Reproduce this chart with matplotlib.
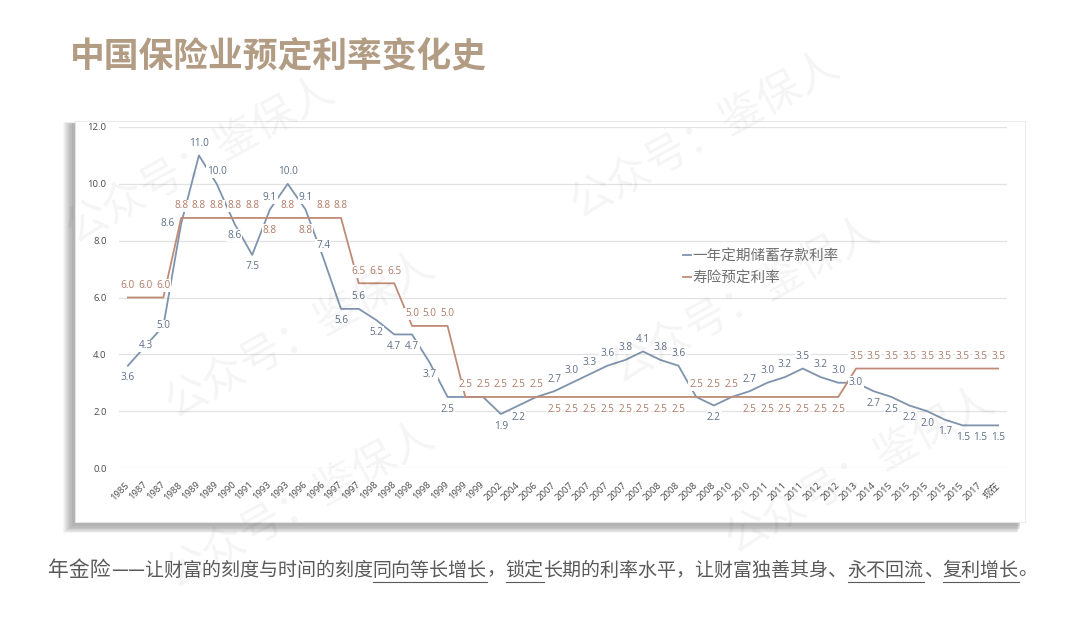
import matplotlib
matplotlib.use('Agg')
import matplotlib.pyplot as plt
from matplotlib.patches import Rectangle
from matplotlib.lines import Line2D

# ---------------- data ----------------
categories = ['1985', '1987', '1987', '1988', '1989', '1989', '1990', '1991', '1993', '1993',
              '1996', '1996', '1997', '1997', '1998', '1998', '1998', '1998', '1999', '1999',
              '1999', '2002', '2004', '2006', '2007', '2007', '2007', '2007', '2007', '2007',
              '2008', '2008', '2008', '2008', '2010', '2010', '2011', '2011', '2011', '2012',
              '2012', '2013', '2014', '2015', '2015', '2015', '2015', '2015', '2017', '现在']

deposit_rate = [3.6, 4.3, 5.0, 8.6, 11.0, 10.0, 8.6, 7.5, 9.1, 10.0,
                9.1, 7.4, 5.6, 5.6, 5.2, 4.7, 4.7, 3.7, 2.5, 2.5,
                2.5, 1.9, 2.2, 2.5, 2.7, 3.0, 3.3, 3.6, 3.8, 4.1,
                3.8, 3.6, 2.5, 2.2, 2.5, 2.7, 3.0, 3.2, 3.5, 3.2,
                3.0, 3.0, 2.7, 2.5, 2.2, 2.0, 1.7, 1.5, 1.5, 1.5]

insurance_rate = [6.0, 6.0, 6.0, 8.8, 8.8, 8.8, 8.8, 8.8, 8.8, 8.8,
                  8.8, 8.8, 8.8, 6.5, 6.5, 6.5, 5.0, 5.0, 5.0, 2.5,
                  2.5, 2.5, 2.5, 2.5, 2.5, 2.5, 2.5, 2.5, 2.5, 2.5,
                  2.5, 2.5, 2.5, 2.5, 2.5, 2.5, 2.5, 2.5, 2.5, 2.5,
                  2.5, 3.5, 3.5, 3.5, 3.5, 3.5, 3.5, 3.5, 3.5, 3.5]

series_names = ['一年定期储蓄存款利率', '寿险预定利率']
y_ticks = [0, 2, 4, 6, 8, 10, 12]

# label placement (a=above, b=below, l=left, c=center, ''=hidden)
deposit_label_pos = ['b', 'c', 'c', 'l', 'a', 'a', 'b', 'b', 'a', 'a',
                     'a', 'a', 'b', 'a', 'b', 'b', 'b', 'b', 'b', '',
                     '', 'b', 'b', '', 'a', 'a', 'a', 'a', 'a', 'a',
                     'a', 'a', '', 'b', '', 'a', 'a', 'a', 'a', 'a',
                     'a', 'c', 'b', 'b', 'b', 'b', 'b', 'b', 'b', 'b']
insurance_label_pos = ['a', 'a', 'a', 'a', 'a', 'a', 'a', 'a', 'b', 'a',
                       'b', 'a', 'a', 'a', 'a', 'a', 'a', 'a', 'a', 'a',
                       'a', 'a', 'a', 'a', 'b', 'b', 'b', 'b', 'b', 'b',
                       'b', 'b', 'a', 'a', 'a', 'b', 'b', 'b', 'b', 'b',
                       'b', 'a', 'a', 'a', 'a', 'a', 'a', 'a', 'a', 'a']

# ---------------- style ----------------
W, H = 1080, 618
CJK = ['Noto Sans CJK SC', 'DejaVu Sans']
NUM = ['Open Sans', 'Noto Sans CJK SC', 'DejaVu Sans']
blue_line, blue_text = '#7F93AC', '#5E6F88'
orange_line, orange_text = '#BF8B77', '#AE7A66'
tick_color = '#4A4A4A'

fig = plt.figure(figsize=(W / 100, H / 100), dpi=100)
fig.patch.set_facecolor('white')

# background axes in pixel coordinates
bg = fig.add_axes([0, 0, 1, 1], zorder=-5)
bg.set_xlim(0, W)
bg.set_ylim(H, 0)
bg.axis('off')

# panel shadow (soft)
for k in range(8):
    bg.add_patch(Rectangle((70 - k, 124 - k * 0.3), 950 + k * 0.6, 404 + k,
                           facecolor='#000000', edgecolor='none', alpha=0.035))
bg.add_patch(Rectangle((72, 123), 948, 403, facecolor='#9a9a9a', edgecolor='none', alpha=0.25))
bg.add_patch(Rectangle((75, 121), 950, 401, facecolor='white', edgecolor='#E6E6E6', lw=0.6))

# chart axes
ax = fig.add_axes([119 / W, (H - 468) / H, 888 / W, 341 / H], zorder=1)
ax.set_facecolor('none')
x = list(range(len(categories)))
l1, = ax.plot(x, deposit_rate, color=blue_line, lw=1.3, zorder=2, solid_joinstyle='round')
l2, = ax.plot(x, insurance_rate, color=orange_line, lw=1.3, zorder=2, solid_joinstyle='round')

ax.set_xlim(-0.5, len(categories) - 0.5)
ax.set_ylim(0, 12)
ax.set_yticks(y_ticks)
ax.set_yticklabels([f'{v:.1f}' for v in y_ticks], fontsize=6.8, color=tick_color, family=NUM)
ax.set_xticks(x)
ax.set_xticklabels(categories, fontsize=6.8, color=tick_color, family=NUM)
plt.setp(ax.get_xticklabels(), rotation=45, ha='right', va='center', rotation_mode='anchor')
ax.tick_params(axis='x', length=0, pad=11)
ax.tick_params(axis='y', length=0, pad=9)
ax.grid(axis='y', color='#E2E2E2', lw=0.9)
ax.set_axisbelow(True)
for s in ax.spines.values():
    s.set_visible(False)

offsets = {'a': (0, 8.7), 'b': (0, -8.7), 'l': (-9.5, 0), 'c': (0, 0)}


def add_labels(values, positions, color):
    for i, (v, p) in enumerate(zip(values, positions)):
        if not p:
            continue
        ax.annotate(f'{v:.1f}', (i, v), xytext=offsets[p], textcoords='offset points',
                    ha='center', va='center', fontsize=7.2, color=color, family=NUM,
                    zorder=4,
                    bbox=dict(boxstyle='square,pad=0.08', facecolor='white', edgecolor='none'))


add_labels(deposit_rate, deposit_label_pos, blue_text)
add_labels(insurance_rate, insurance_label_pos, orange_text)

leg = ax.legend([l1, l2], series_names, loc='upper left',
                bbox_to_anchor=(676 / W, 1 - 242 / H), bbox_transform=fig.transFigure,
                frameon=False, handlelength=0.55, handletextpad=0.1, labelspacing=0.55,
                borderpad=0, prop={'family': CJK, 'size': 10.5})
for t in leg.get_texts():
    t.set_color('#707070')

# title
fig.text(70 / W, 1 - 57 / H, '中国保险业预定利率变化史', fontsize=25, fontweight='bold',
         color='#B39C84', family=CJK, ha='left', va='center')

# watermarks
for cx, cy in [(200, 160), (705, 135), (300, 335), (745, 300), (300, 505), (860, 470)]:
    fig.text(cx / W, 1 - cy / H, '公众号：鉴保人', fontsize=31, rotation=29, color='#000000',
             alpha=0.045, family=CJK, ha='center', va='center', zorder=10)

# bottom sentence with underlines
segments = [('年金险', 15, False), ('——让财富的刻度与时间的刻度', 13.7, False),
            ('同向等长增长', 13.7, True), ('，', 13.7, False), ('锁定', 13.7, True),
            ('长期的利率水平，让财富独善其身、', 13.7, False), ('永不回流', 13.7, True),
            ('、', 13.7, False), ('复利增长', 13.7, True), ('。', 13.7, False)]
fig.canvas.draw()
renderer = fig.canvas.get_renderer()
xpos = 48
ytxt = 1 - 570 / H
yul = 1 - 582 / H
for txt, fs, ul in segments:
    t = fig.text(xpos / W, ytxt, txt, fontsize=fs, color='#5A5A5A', family=CJK,
                 ha='left', va='center')
    bb = t.get_window_extent(renderer=renderer)
    if ul:
        fig.add_artist(Line2D([bb.x0 / W, bb.x1 / W], [yul, yul], transform=fig.transFigure,
                              color='#5A5A5A', lw=0.8))
    xpos += bb.width

fig.savefig('out.png', dpi=100, facecolor='white')
